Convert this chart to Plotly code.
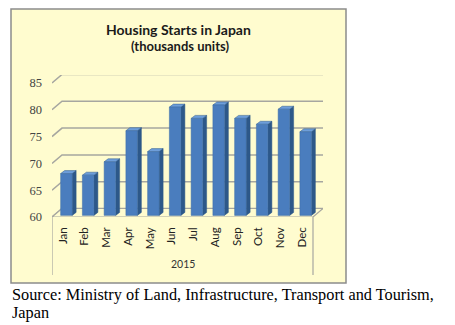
import plotly.graph_objects as go

months = ["Jan", "Feb", "Mar", "Apr", "May", "Jun", "Jul", "Aug", "Sep", "Oct", "Nov", "Dec"]
starts = [67.8, 67.5, 70.0, 75.8, 71.9, 80.2, 78.1, 80.6, 78.1, 77.0, 79.8, 75.6]
y_ticks = [60, 65, 70, 75, 80, 85]
year_label = "2015"
title_main = "Housing Starts in Japan"
title_sub = "(thousands units)"
source_line1 = "Source: Ministry of Land, Infrastructure, Transport and Tourism,"
source_line2 = "Japan"

W_FIG, H_FIG = 455, 325
L, R, T, B = 52, 323, 75, 217          # plot area in pixels
PW, PH = R - L, B - T

n = len(months)
x_lo = -0.5
x_front_hi = n - 0.5
px_per_x = (313 - 52) / n
x_hi = x_lo + PW / px_per_x
y_lo = 60
px_per_y = (217 - 83) / 25
y_hi = y_lo + PH / px_per_y

# depth of the 3D box (in data units)
dx = 10 / px_per_x
dy = 8.5 / px_per_y
# bar geometry
ox = 3.5 / px_per_x
oy = 0.3
bw = 11.5 / px_per_x
sdx = 4 / px_per_x
sdy = 3 / px_per_y

def fx(px):
    return (px - L) / PW

def fy(py):
    return (B - py) / PH

BG = "#FFFCCF"
GRID = "#A6A6A0"
FRONT = "#4A7DBE"
SIDE = "#2D5889"
TOP = "#6E9EDA"

fig = go.Figure()

# gridlines on back wall with diagonal on the left wall
for v in y_ticks:
    fig.add_trace(go.Scatter(
        x=[x_lo, x_lo + dx, x_front_hi + dx],
        y=[v, v + dy, v + dy],
        mode="lines", line=dict(color=GRID, width=1.5),
        hoverinfo="skip", showlegend=False))

# floor
fig.add_trace(go.Scatter(
    x=[x_lo, x_front_hi, x_front_hi + dx, x_lo + dx, x_lo],
    y=[y_lo, y_lo, y_lo + dy, y_lo + dy, y_lo],
    mode="lines", fill="toself", fillcolor=BG,
    line=dict(color=GRID, width=1.2),
    hoverinfo="skip", showlegend=False))

# bars: side, top, front
for i, v in enumerate(starts):
    x0 = i + ox - bw / 2
    x1 = i + ox + bw / 2
    b0 = y_lo + oy
    t0 = v + oy
    fig.add_trace(go.Scatter(
        x=[x1, x1 + sdx, x1 + sdx, x1, x1],
        y=[b0, b0 + sdy, t0 + sdy, t0, b0],
        mode="lines", fill="toself", fillcolor=SIDE,
        line=dict(color=SIDE, width=0.5),
        hoverinfo="skip", showlegend=False))
    fig.add_trace(go.Scatter(
        x=[x0, x1, x1 + sdx, x0 + sdx, x0],
        y=[t0, t0, t0 + sdy, t0 + sdy, t0],
        mode="lines", fill="toself", fillcolor=TOP,
        line=dict(color=SIDE, width=0.5),
        hoverinfo="skip", showlegend=False))
    fig.add_trace(go.Scatter(
        x=[x0, x1, x1, x0, x0],
        y=[b0, b0, t0, t0, b0],
        mode="lines", fill="toself", fillcolor=FRONT,
        line=dict(color="#3F6EA8", width=0.5),
        hoverinfo="text", text=f"{months[i]}: {v}", showlegend=False))

shapes = [
    # chart box
    dict(type="rect", xref="paper", yref="paper",
         x0=fx(11), x1=fx(346), y0=fy(283), y1=fy(9),
         fillcolor=BG, line=dict(color="#8C8C8C", width=1.5), layer="below"),
    # category box side lines
    dict(type="line", xref="x", yref="paper", x0=x_lo, x1=x_lo,
         y0=fy(275), y1=0, line=dict(color=GRID, width=1.2)),
    dict(type="line", xref="x", yref="paper", x0=x_front_hi, x1=x_front_hi,
         y0=fy(275), y1=0, line=dict(color=GRID, width=1.2)),
]

annotations = [
    dict(text=f"<b>{title_main}</b>", xref="paper", yref="paper",
         x=fx(178), y=fy(29), xanchor="center", yanchor="middle", showarrow=False,
         font=dict(family="Lato", size=14, color="#1a1a1a")),
    dict(text=f"<b>{title_sub}</b>", xref="paper", yref="paper",
         x=fx(180), y=fy(46), xanchor="center", yanchor="middle", showarrow=False,
         font=dict(family="Lato", size=13, color="#1a1a1a")),
    dict(text=year_label, xref="x", yref="paper",
         x=(x_lo + x_front_hi) / 2, y=fy(264), xanchor="center", yanchor="middle",
         showarrow=False,
         font=dict(family="Lato", size=10.5, color="#333")),
    dict(text=source_line1, xref="paper", yref="paper",
         x=fx(10), y=fy(294), xanchor="left", yanchor="middle",
         showarrow=False,
         font=dict(family="Liberation Serif", size=16.3, color="#000")),
    dict(text=source_line2, xref="paper", yref="paper",
         x=fx(10), y=fy(312), xanchor="left", yanchor="middle",
         showarrow=False,
         font=dict(family="Liberation Serif", size=16.3, color="#000")),
]

fig.update_layout(
    width=W_FIG, height=H_FIG,
    margin=dict(l=L, r=W_FIG - R, t=T, b=H_FIG - B, pad=0),
    paper_bgcolor="white", plot_bgcolor="rgba(0,0,0,0)",
    shapes=shapes, annotations=annotations,
    xaxis=dict(range=[x_lo, x_hi], tickvals=list(range(n)), ticktext=months,
               tickangle=-90, showgrid=False, zeroline=False, showline=False,
               ticks="", ticklabelstandoff=7,
               tickfont=dict(family="Lato", size=11.5, color="#222")),
    yaxis=dict(range=[y_lo, y_hi], tickvals=y_ticks, ticktext=[str(t) for t in y_ticks],
               showgrid=False, zeroline=False, showline=False, ticks="",
               ticklabelstandoff=9,
               tickfont=dict(family="Liberation Serif", size=12.5, color="#444")),
)

fig.write_html("out.html")
